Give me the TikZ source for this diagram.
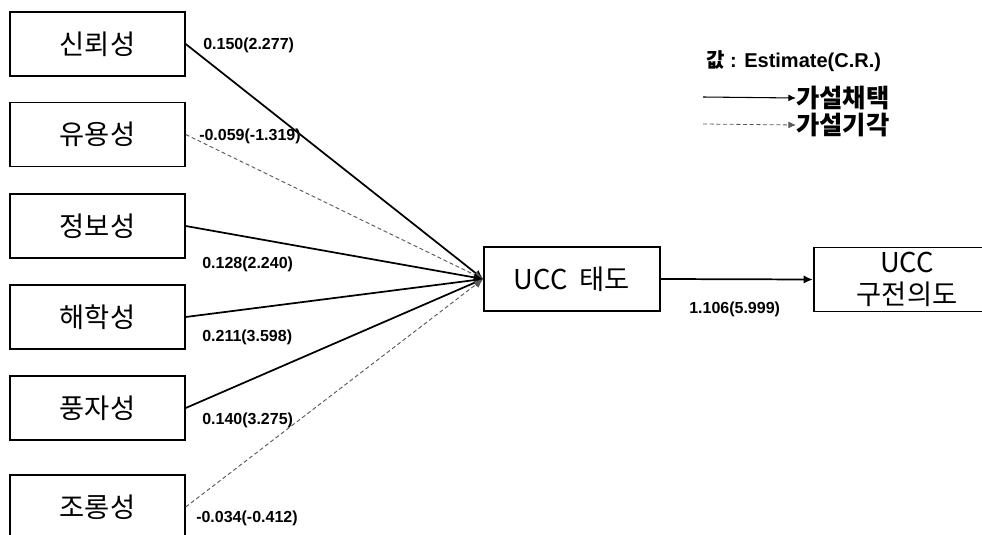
\documentclass[tikz,border=0pt]{standalone}
\usepackage{fontspec}
\setmainfont{Liberation Sans}
\newfontfamily\kr{Noto Sans CJK KR}
\usepackage{tikz}
\usetikzlibrary{arrows.meta}
\usetikzlibrary{positioning}

\tikzset{
  factor/.style={draw,line width=1.3pt,minimum width=131pt,minimum height=48pt,inner sep=0pt,font=\kr\fontsize{20.5}{24}\selectfont},
  coef/.style={anchor=west,inner sep=0pt,font=\bfseries\fontsize{12}{14}\selectfont},
  adopt/.style={line width=1.3pt,-{Latex[length=2.4mm,width=2.2mm]}},
  reject/.style={gray!70!black,line width=0.7pt,dash pattern=on 3pt off 2pt,-{Latex[length=2.4mm,width=2.2mm]}}
}

\begin{document}
\begin{tikzpicture}[x=0.75pt,y=-0.75pt]
        \useasboundingbox (0,0) rectangle (982,535);
        \clip (0,0) rectangle (982,535);

        % factors
        \node[factor] (trust) at (97.5,44) {신뢰성};
        \node[factor] (useful) at (97.5,134.5) {유용성};
        \node[factor] (info) at (97.5,226) {정보성};
        \node[factor] (humor) at (97.5,317) {해학성};
        \node[factor] (satire) at (97.5,408) {풍자성};
        \node[factor] (mock) at (97.5,507) {조롱성};

        \node[factor,minimum width=132pt] (att) at (572,279) {UCC\ \ 태도};
        \node[factor,minimum width=140pt,align=center,font=\kr\fontsize{20.5}{24}\selectfont] (wom) at (907,279.5) {UCC\\구전의도};

        \coordinate (hub) at (att.west);

        \draw[adopt] (trust.east) -- (hub);
        \draw[reject] (useful.east) -- (hub);
        \draw[adopt] (info.east) -- (hub);
        \draw[adopt] (humor.east) -- (hub);
        \draw[adopt] (satire.east) -- (hub);
        \draw[reject] (mock.east) -- (hub);
        \draw[adopt] (att.east) -- (wom.west);

        % estimates
        \node[coef] (c1) at (203,45) {0.150(2.277)};
        \node[coef] (c2) at (199,136) {-0.059(-1.319)};
        \node[coef] (c3) at (202,264) {0.128(2.240)};
        \node[coef] (c4) at (202,337) {0.211(3.598)};
        \node[coef] (c5) at (202,420) {0.140(3.275)};
        \node[coef] (c6) at (196,518) {-0.034(-0.412)};
        \node[coef] (c7) at (689,309) {1.106(5.999)};

        % legend
        \node[coef,font=\bfseries\fontsize{15}{17}\selectfont] (key) at (706,61) {{\kr 값} : Estimate(C.R.)};
        \node[coef,font=\kr\bfseries\fontsize{19}{22}\selectfont] (yes) at (796,98) {가설채택};
        \node[coef,font=\kr\bfseries\fontsize{19}{22}\selectfont] (no) at (796,125) {가설기각};
        \coordinate (yes0) at (703,97);
        \coordinate (no0) at (703,124);
        \draw[line width=0.8pt,-{Latex[length=2mm,width=1.8mm]}] (yes0) -- (yes.west);
        \draw[reject,line width=0.6pt,-{Latex[length=2mm,width=1.8mm]}] (no0) -- (no.west);
\end{tikzpicture}
\end{document}
